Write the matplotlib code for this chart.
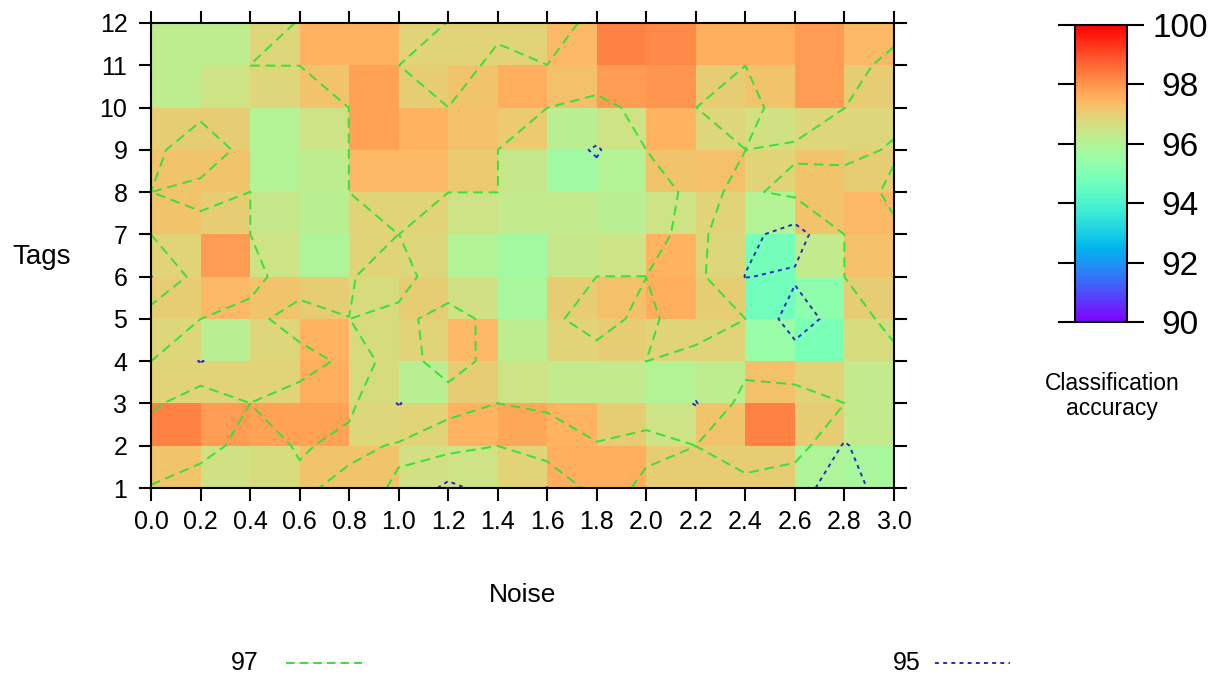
import numpy as np
import matplotlib
matplotlib.use("Agg")
import matplotlib.pyplot as plt
from matplotlib.lines import Line2D

plt.rcParams['font.family'] = ['Liberation Sans', 'DejaVu Sans']

# grid of measurement points
noise = [0.0, 0.2, 0.4, 0.6, 0.8, 1.0, 1.2, 1.4, 1.6, 1.8, 2.0, 2.2, 2.4, 2.6, 2.8, 3.0]
tags = [1, 2, 3, 4, 5, 6, 7, 8, 9, 10, 11, 12]

# accuracy at each grid point (rows: tags 1..12, cols: noise 0.0..3.0) -> contours
acc_points = [
    [96.85, 95.6, 96.3, 96.6, 97.6, 96.8, 94.5, 95.9, 94.95, 97.9, 96.6, 96.5, 96.35, 95.5, 94.3, 95.85],
    [98.8, 98.0, 96.0, 97.2, 96.5, 97.2, 97.6, 97.0, 98.2, 97.1, 97.4, 97.0, 98.2, 98.0, 94.8, 96.8],
    [96.5, 98.5, 97.0, 97.77, 97.38, 94.9, 96.64, 97.0, 96.66, 96.0, 96.3, 94.9, 97.7, 97.8, 97.0, 96.4],
    [97.0, 94.9, 96.5, 96.26, 97.4, 96.65, 97.35, 96.71, 96.3, 96.6, 97.0, 96.5, 96.43, 96.0, 96.4, 96.5],
    [98.0, 97.0, 96.42, 97.9, 97.0, 96.6, 97.6, 96.5, 96.78, 97.4, 96.7, 97.8, 97.0, 94.0, 96.0, 97.6],
    [94.95, 97.8, 97.6, 95.9, 96.9, 97.6, 96.0, 95.7, 96.0, 97.0, 97.0, 97.5, 94.95, 95.25, 97.0, 97.4],
    [97.0, 97.6, 97.0, 96.0, 96.3, 97.0, 96.4, 96.0, 96.0, 96.1, 96.5, 97.5, 95.5, 94.2, 97.0, 97.15],
    [97.0, 96.5, 97.0, 96.2, 97.0, 97.6, 97.0, 97.0, 95.8, 95.9, 96.44, 97.3, 96.75, 97.4, 97.5, 96.8],
    [96.55, 98.0, 96.4, 96.2, 97.0, 97.8, 97.5, 97.0, 96.0, 94.8, 97.0, 97.5, 97.0, 96.8, 96.7, 97.1],
    [96.6, 96.5, 96.4, 96.5, 97.0, 97.8, 97.0, 97.5, 97.0, 96.65, 97.35, 97.0, 96.5, 97.8, 97.0, 96.7],
    [96.2, 96.4, 97.0, 97.0, 97.6, 97.0, 96.4, 97.3, 97.0, 97.8, 98.2, 97.5, 97.0, 97.8, 97.5, 96.6],
    [96.2, 96.2, 96.5, 97.05, 97.8, 97.9, 96.95, 96.7, 96.5, 97.3, 98.3, 97.8, 97.6, 97.8, 97.9, 97.5],
]

# accuracy shown in each cell (rows: tags 1-2 .. 11-12, cols: noise 0.0-0.2 .. 2.8-3.0)
acc_cells = [
    [97.2, 96.6, 96.7, 97.2, 97.2, 96.6, 96.5, 96.9, 97.6, 97.6, 97.0, 97.0, 97.0, 95.9, 95.8],
    [98.3, 97.9, 97.8, 97.8, 96.8, 96.9, 97.5, 97.7, 97.5, 97.0, 96.5, 97.2, 98.3, 97.0, 96.3],
    [96.9, 96.9, 96.9, 97.6, 96.7, 96.1, 97.0, 96.5, 96.3, 96.3, 96.0, 96.2, 97.3, 96.9, 96.3],
    [96.8, 96.1, 96.8, 97.5, 96.7, 96.9, 97.4, 96.2, 96.9, 97.0, 96.9, 96.9, 95.5, 94.9, 96.7],
    [97.0, 97.4, 97.2, 97.0, 96.7, 97.0, 96.6, 95.8, 97.0, 97.3, 97.6, 97.0, 94.7, 95.3, 97.0],
    [96.9, 97.9, 96.5, 95.9, 96.9, 96.8, 96.0, 95.7, 96.4, 96.5, 97.5, 96.8, 94.8, 96.3, 97.3],
    [97.2, 97.0, 96.4, 96.1, 96.9, 96.9, 96.5, 96.3, 96.3, 96.1, 96.5, 96.9, 96.0, 97.2, 97.4],
    [97.2, 97.2, 96.0, 96.2, 97.4, 97.4, 97.1, 96.4, 95.6, 96.0, 97.2, 97.3, 96.9, 97.2, 97.0],
    [97.0, 97.0, 96.0, 96.5, 97.8, 97.5, 97.3, 97.1, 96.1, 96.5, 97.5, 96.8, 96.6, 96.8, 96.8],
    [96.2, 96.5, 96.8, 97.2, 97.8, 97.0, 97.2, 97.6, 97.3, 97.9, 98.0, 97.0, 97.2, 97.9, 97.0],
    [96.2, 96.2, 96.8, 97.5, 97.5, 96.9, 96.9, 96.9, 97.4, 98.3, 98.2, 97.6, 97.6, 97.9, 97.4],
]

contour_levels = [97, 95]
cbar_ticks = [90, 92, 94, 96, 98, 100]

W, H = 1216, 697
fig = plt.figure(figsize=(W / 100, H / 100), dpi=100)
ax = fig.add_axes([151 / W, 1 - 488 / H, 743 / W, 465 / H])

X = np.array(noise)
Y = np.array(tags)
Zp = np.array(acc_points)
Zc = np.array(acc_cells)

mesh = ax.pcolormesh(X, Y, Zc, cmap='rainbow', vmin=90, vmax=100, shading='flat')

green = '#38e038'
blue = '#2828c0'
ax.contour(X, Y, Zp, levels=[contour_levels[0] - 0.005], colors=[green],
           linewidths=1.4, linestyles=[(0, (5, 3))], algorithm='serial')
ax.contour(X, Y, Zp, levels=[contour_levels[1]], colors=[blue],
           linewidths=1.4, linestyles=[(0, (2, 2.2))], algorithm='serial')

ax.set_xlim(0, 3.0)
ax.set_ylim(1, 12)
ax.set_xticks(noise)
ax.set_xticklabels([f"{v:.1f}" for v in noise])
ax.set_yticks(tags)
ax.tick_params(axis='both', which='both', direction='out', length=9, width=1.5,
               labelsize=18, top=True, right=True, bottom=True, left=True)
ax.tick_params(axis='x', pad=7)
ax.tick_params(axis='y', pad=8)
for s in ax.spines.values():
    s.set_linewidth(1.5)
    s.set_color('black')

ax.set_xlabel('Noise', fontsize=19)
ax.xaxis.set_label_coords(0.5, -0.205)
ax.set_ylabel('Tags', fontsize=20, rotation=0, ha='center', va='center')
ax.yaxis.set_label_coords(-0.147, 0.497)

# colorbar
cax = fig.add_axes([1075 / W, 1 - 322 / H, 52 / W, 297 / H])
cb = fig.colorbar(mesh, cax=cax, ticks=cbar_ticks)
cb.outline.set_linewidth(1.5)
cax.tick_params(direction='out', length=12, width=1.5, left=True, right=True,
                labelleft=False, labelright=True, labelsize=24, pad=8)
for lab in cax.get_yticklabels():
    lab.set_horizontalalignment('center')
    lab.set_x(lab.get_position()[0])
cax.tick_params(pad=26)
fig.text(1112 / W, 1 - 396 / H, 'Classification\naccuracy', ha='center', va='center',
         fontsize=16.5, linespacing=1.1)

# legend for contour levels
def legend_entry(label, x_text, x0, x1, y, color, ls):
    fig.text(x_text / W, 1 - y / H, label, ha='center', va='center', fontsize=18)
    fig.add_artist(Line2D([x0 / W, x1 / W], [1 - y / H, 1 - y / H], transform=fig.transFigure,
                          color=color, lw=1.4, linestyle=ls))

legend_entry(str(contour_levels[0]), 245, 286, 362, 663, green, (0, (4.5, 2.5)))
legend_entry(str(contour_levels[1]), 907, 935, 1010, 663, blue, (0, (2, 2.2)))

fig.savefig('out.png', dpi=100)
